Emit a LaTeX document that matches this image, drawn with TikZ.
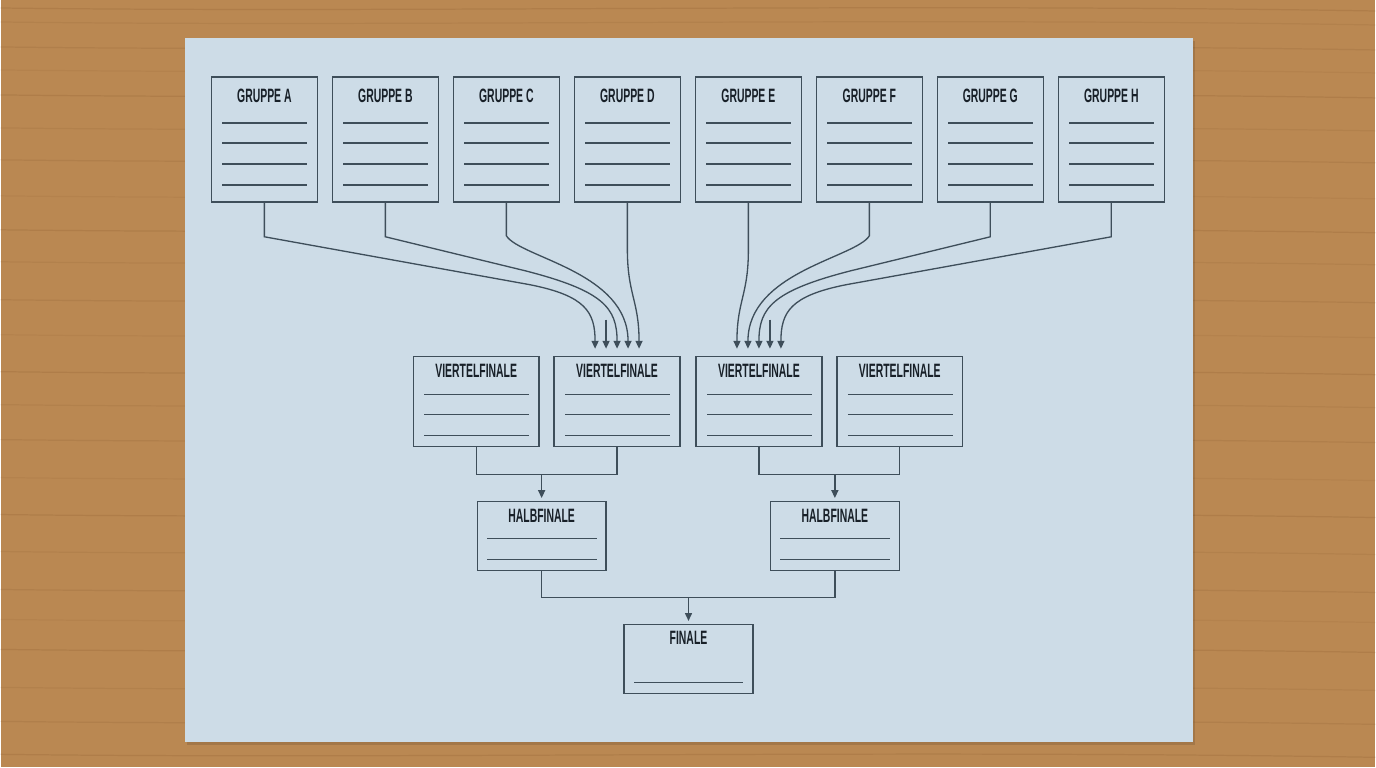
\documentclass[tikz,border=0pt]{standalone}
\usepackage{fontspec}
\newfontfamily\boxfont{Liberation Sans}[FakeStretch=0.54]
\usetikzlibrary{calc,arrows.meta}
\definecolor{wood}{RGB}{186,136,82}
\definecolor{wooddark}{RGB}{150,102,55}
\definecolor{paper}{RGB}{205,220,231}
\definecolor{ink}{RGB}{62,78,90}
\definecolor{inktext}{RGB}{24,32,40}
\tikzset{
  groupbox/.style={draw=ink, line width=0.8pt, minimum width=2.12cm, minimum height=2.5cm, inner sep=0pt, outer sep=0pt},
  vfbox/.style={groupbox, minimum width=2.52cm, minimum height=1.8cm},
  hfbox/.style={groupbox, minimum width=2.58cm, minimum height=1.38cm},
  boxtitle/.style={font=\boxfont\bfseries\fontsize{11}{12}\selectfont, text=inktext, inner sep=0pt},
  writeline/.style={draw=ink, line width=0.75pt},
  link/.style={draw=ink, line width=0.75pt},
  feed/.style={link, -{Triangle[length=4.5pt,width=4pt]}},
  arr/.style={feed, shorten >=2pt}
}
\begin{document}
\begin{tikzpicture}[x=0.02cm,y=-0.02cm]
			%%%%% TABLE AND SHEET %%%%%
			\fill[wood] (0,0) rectangle (1376,768);
			\foreach \yy/\op in {8/0.3,22/0.2,47/0.25,70/0.15,95/0.3,128/0.2,160/0.25,196/0.15,230/0.3,262/0.2,300/0.25,335/0.15,372/0.3,405/0.2,440/0.25,478/0.15,515/0.3,552/0.2,590/0.25,620/0.15,650/0.3,688/0.2,722/0.25,755/0.3}
				\draw[wooddark, line width=0.7pt, opacity=\op] (0,\yy) .. controls (400,\yy+5) and (900,\yy-5) .. (1376,\yy+3);
			\fill[black, opacity=0.12] (187,41) rectangle (1195,746);
			\fill[paper] (185,38) rectangle (1193,743);
			
			%%%%% GROUPS %%%%%
			\foreach \g [count=\i from 0] in {A,B,C,D,E,F,G,H}{
				\node[groupbox] (g\g) at ({264+121.1*\i},139.5) {};
				\node[boxtitle] at ($(g\g.north)+(0,19)$) {GRUPPE \g};
				\foreach \yy in {46,66,87,108}
					\draw[writeline] ($(g\g.north west)+(11,\yy)$) -- ($(g\g.north east)+(-10,\yy)$);
			}
			
			%%%%% QUARTER FINALS %%%%%
			\foreach \v/\xx in {1/476,2/617,3/759,4/900}{
				\node[vfbox] (vf\v) at (\xx,402) {};
				\node[boxtitle] at ($(vf\v.north)+(0,14)$) {VIERTELFINALE};
				\foreach \yy in {38,58,79}
					\draw[writeline] ($(vf\v.north west)+(11,\yy)$) -- ($(vf\v.north east)+(-10,\yy)$);
			}
			
			%%%%% SEMI FINALS %%%%%
			\foreach \h/\xx in {1/541.5,2/835}{
				\node[hfbox] (hf\h) at (\xx,536.5) {};
				\node[boxtitle] at ($(hf\h.north)+(0,14)$) {HALBFINALE};
				\foreach \yy in {37,58}
					\draw[writeline] ($(hf\h.north west)+(10,\yy)$) -- ($(hf\h.north east)+(-9,\yy)$);
			}
			
			%%%%% FINAL %%%%%
			\node[hfbox] (fin) at (688.5,659.5) {};
			\node[boxtitle] at ($(fin.north)+(0,13)$) {FINALE};
			\draw[writeline] ($(fin.north west)+(10,58)$) -- ($(fin.north east)+(-10,58)$);
			
			%%%%% GROUPS TO QUARTER FINALS %%%%%
			\foreach \k/\dx in {1/-22,2/-11,3/0,4/11,5/22}{
				\coordinate (inL\k) at ($(vf2.north)+(\dx,-8)$);
				\coordinate (inR\k) at ($(vf3.north)+(\dx,-8)$);
			}
			\draw[feed] (gA.south) -- ++(0,35) -- (530,285) .. controls (585,296) and (595,312) .. (inL1);
			\draw[feed] ($(inL2)+(0,-29)$) -- (inL2);
			\draw[feed] (gB.south) -- ++(0,35) -- (525,271) .. controls (603,291) and (617,308) .. (inL3);
			\draw[feed] (gC.south) -- ++(0,34) .. controls (520,258) and (628,272) .. (inL4);
			\draw[feed] (gD.south) -- ++(0,45) .. controls (627,295) and (639,300) .. (inL5);
			
			\draw[feed] (gH.south) -- ++(0,35) -- (846,285) .. controls (791,296) and (781,312) .. (inR5);
			\draw[feed] ($(inR4)+(0,-29)$) -- (inR4);
			\draw[feed] (gG.south) -- ++(0,35) -- (851,271) .. controls (773,291) and (759,308) .. (inR3);
			\draw[feed] (gF.south) -- ++(0,34) .. controls (856,258) and (748,272) .. (inR2);
			\draw[feed] (gE.south) -- ++(0,45) .. controls (749,295) and (737,300) .. (inR1);
			
			%%%%% BRACKETS %%%%%
			\draw[link] (vf1.south) -- ++(0,28) coordinate (b1) -| (vf2.south);
			\draw[arr] (hf1.north |- b1) -- (hf1.north);
			\draw[link] (vf3.south) -- ++(0,28) coordinate (b2) -| (vf4.south);
			\draw[arr] (hf2.north |- b2) -- (hf2.north);
			\draw[link] (hf1.south) -- ++(0,27) coordinate (b3) -| (hf2.south);
			\draw[arr] (fin.north |- b3) -- (fin.north);
\end{tikzpicture}
\end{document}
